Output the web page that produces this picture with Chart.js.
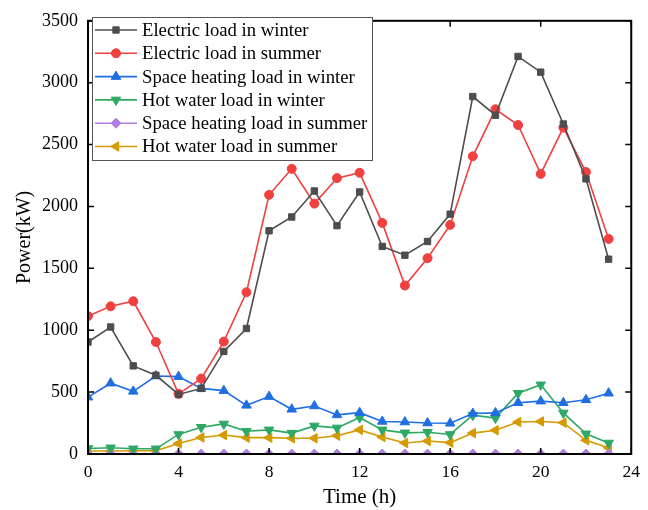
<!DOCTYPE html>
<html>
<head>
<meta charset="utf-8">
<script src="https://cdn.jsdelivr.net/npm/chart.js@4/dist/chart.umd.min.js"></script>
<style>
  html, body { margin: 0; padding: 0; background: #fff; }
  #wrap { width: 648px; height: 510px; }
</style>
</head>
<body>
<div id="wrap"><canvas id="loadChart"></canvas></div>
<script>
// hours of the day
const hours = [0, 1, 2, 3, 4, 5, 6, 7, 8, 9, 10, 11, 12, 13, 14, 15, 16, 17, 18, 19, 20, 21, 22, 23];

const elecWinter = [905, 1026, 712, 636, 481, 530, 829, 1014, 1804, 1915, 2125, 1845, 2117, 1677, 1606, 1717, 1938, 2888, 2737, 3212, 3085, 2666, 2223, 1574];
const elecSummer = [1114, 1193, 1234, 905, 486, 609, 908, 1307, 2094, 2304, 2023, 2229, 2272, 1867, 1361, 1582, 1851, 2405, 2785, 2658, 2263, 2637, 2278, 1738];
const spaceWinter = [459, 572, 506, 630, 625, 530, 512, 393, 464, 361, 388, 316, 334, 263, 258, 250, 248, 327, 332, 414, 427, 414, 438, 491];
const hotWinter = [45, 50, 42, 42, 158, 216, 243, 184, 195, 169, 227, 211, 295, 195, 171, 176, 158, 314, 290, 491, 559, 332, 163, 89];
const spaceSummer = [0, 0, 0, 0, 0, 0, 0, 0, 0, 0, 0, 0, 0, 0, 0, 0, 0, 0, 0, 0, 0, 0, 0, 0];
const hotSummer = [24, 24, 26, 26, 84, 134, 153, 132, 132, 127, 127, 148, 195, 137, 89, 105, 92, 169, 192, 258, 263, 253, 111, 50];

const xTicks = [0, 4, 8, 12, 16, 20, 24];
const yTicks = [0, 500, 1000, 1500, 2000, 2500, 3000, 3500];

const fontFam = '"Liberation Serif", "Times New Roman", serif';

function pts(vals) {
  return vals.map((v, i) => ({ x: hours[i], y: v }));
}

function mkSet(label, vals, color, style, rot, r) {
  return {
    label: label,
    data: pts(vals),
    borderColor: color,
    backgroundColor: color,
    borderWidth: 1.6,
    pointStyle: style,
    pointRotation: rot,
    pointRadius: r,
    pointBorderWidth: 1,
    tension: 0
  };
}

const datasets = [
  mkSet('Electric load in winter', elecWinter, '#4d4d4d', 'rect', 0, 4.5),
  mkSet('Electric load in summer', elecSummer, '#f04040', 'circle', 0, 4.5),
  mkSet('Space heating load in winter', spaceWinter, '#1f6fe0', 'triangle', 0, 5.5),
  mkSet('Hot water load in winter', hotWinter, '#2ea865', 'triangle', 180, 5.5),
  mkSet('Space heating load in summer', spaceSummer, '#b07ee0', 'rectRot', 0, 5),
  mkSet('Hot water load in summer', hotSummer, '#d49a00', 'triangle', -90, 5.5)
];

// frame, inward ticks and legend box
const framePlugin = {
  id: 'frame',
  afterDatasetsDraw(chart) {
    const ctx = chart.ctx;
    const a = chart.chartArea;
    const xs = chart.scales.x, ys = chart.scales.y;
    ctx.save();
    ctx.strokeStyle = '#000';
    ctx.lineWidth = 2;
    ctx.strokeRect(a.left, a.top, a.right - a.left, a.bottom - a.top);
    ctx.lineWidth = 1.5;
    const tl = 6;
    ctx.beginPath();
    xTicks.forEach(t => {
      const px = xs.getPixelForValue(t);
      ctx.moveTo(px, a.bottom); ctx.lineTo(px, a.bottom - tl);
      ctx.moveTo(px, a.top); ctx.lineTo(px, a.top + tl);
    });
    yTicks.forEach(t => {
      const py = ys.getPixelForValue(t);
      ctx.moveTo(a.left, py); ctx.lineTo(a.left + tl, py);
      ctx.moveTo(a.right, py); ctx.lineTo(a.right - tl, py);
    });
    ctx.stroke();

    // legend
    const bx = 92.5, by = 17.5, bw = 280, bh = 143;
    ctx.fillStyle = '#fff';
    ctx.fillRect(bx, by, bw, bh);
    ctx.strokeStyle = '#555';
    ctx.lineWidth = 1;
    ctx.strokeRect(bx, by, bw, bh);
    ctx.font = '18.7px ' + fontFam;
    ctx.textBaseline = 'middle';
    chart.data.datasets.forEach((ds, i) => {
      const y = 30 + i * 23.3;
      ctx.strokeStyle = ds.borderColor;
      ctx.fillStyle = ds.backgroundColor;
      ctx.lineWidth = 1.6;
      ctx.beginPath();
      ctx.moveTo(95, y); ctx.lineTo(137, y);
      ctx.stroke();
      ctx.lineWidth = 1;
      Chart.helpers.drawPoint(ctx, {
        pointStyle: ds.pointStyle,
        rotation: ds.pointRotation,
        radius: ds.pointRadius,
        borderWidth: 1
      }, 116, y);
      ctx.fillStyle = '#000';
      ctx.fillText(ds.label, 142, y + 1);
    });
    ctx.restore();
  }
};

new Chart(document.getElementById('loadChart'), {
  type: 'line',
  data: { datasets: datasets },
  options: {
    responsive: true,
    maintainAspectRatio: false,
    animation: false,
    layout: { padding: { top: 12, right: 10, left: 0, bottom: 0 } },
    plugins: {
      legend: { display: false },
      tooltip: { enabled: false }
    },
    scales: {
      x: {
        type: 'linear',
        min: 0,
        max: 24,
        afterBuildTicks: s => { s.ticks = xTicks.map(v => ({ value: v })); },
        grid: { display: false, drawTicks: false, tickLength: 0 },
        border: { display: false },
        ticks: { color: '#000', font: { family: fontFam, size: 17.5 }, padding: 8, maxRotation: 0, callback: v => String(v) },
        title: { display: true, text: 'Time (h)', color: '#000', font: { family: fontFam, size: 21 }, padding: { top: 0, bottom: 0 } },
        afterFit: s => { s.height = 56; }
      },
      y: {
        min: 0,
        max: 3500,
        afterBuildTicks: s => { s.ticks = yTicks.map(v => ({ value: v })); },
        grid: { display: false, drawTicks: false, tickLength: 0 },
        border: { display: false },
        ticks: { color: '#000', font: { family: fontFam, size: 18 }, padding: 10, callback: v => String(v) },
        title: { display: true, text: 'Power(kW)', color: '#000', font: { family: fontFam, size: 20 }, padding: { top: 13, bottom: 0 } },
        afterFit: s => { s.width = 88; }
      }
    }
  },
  plugins: [framePlugin]
});
</script>
</body>
</html>
